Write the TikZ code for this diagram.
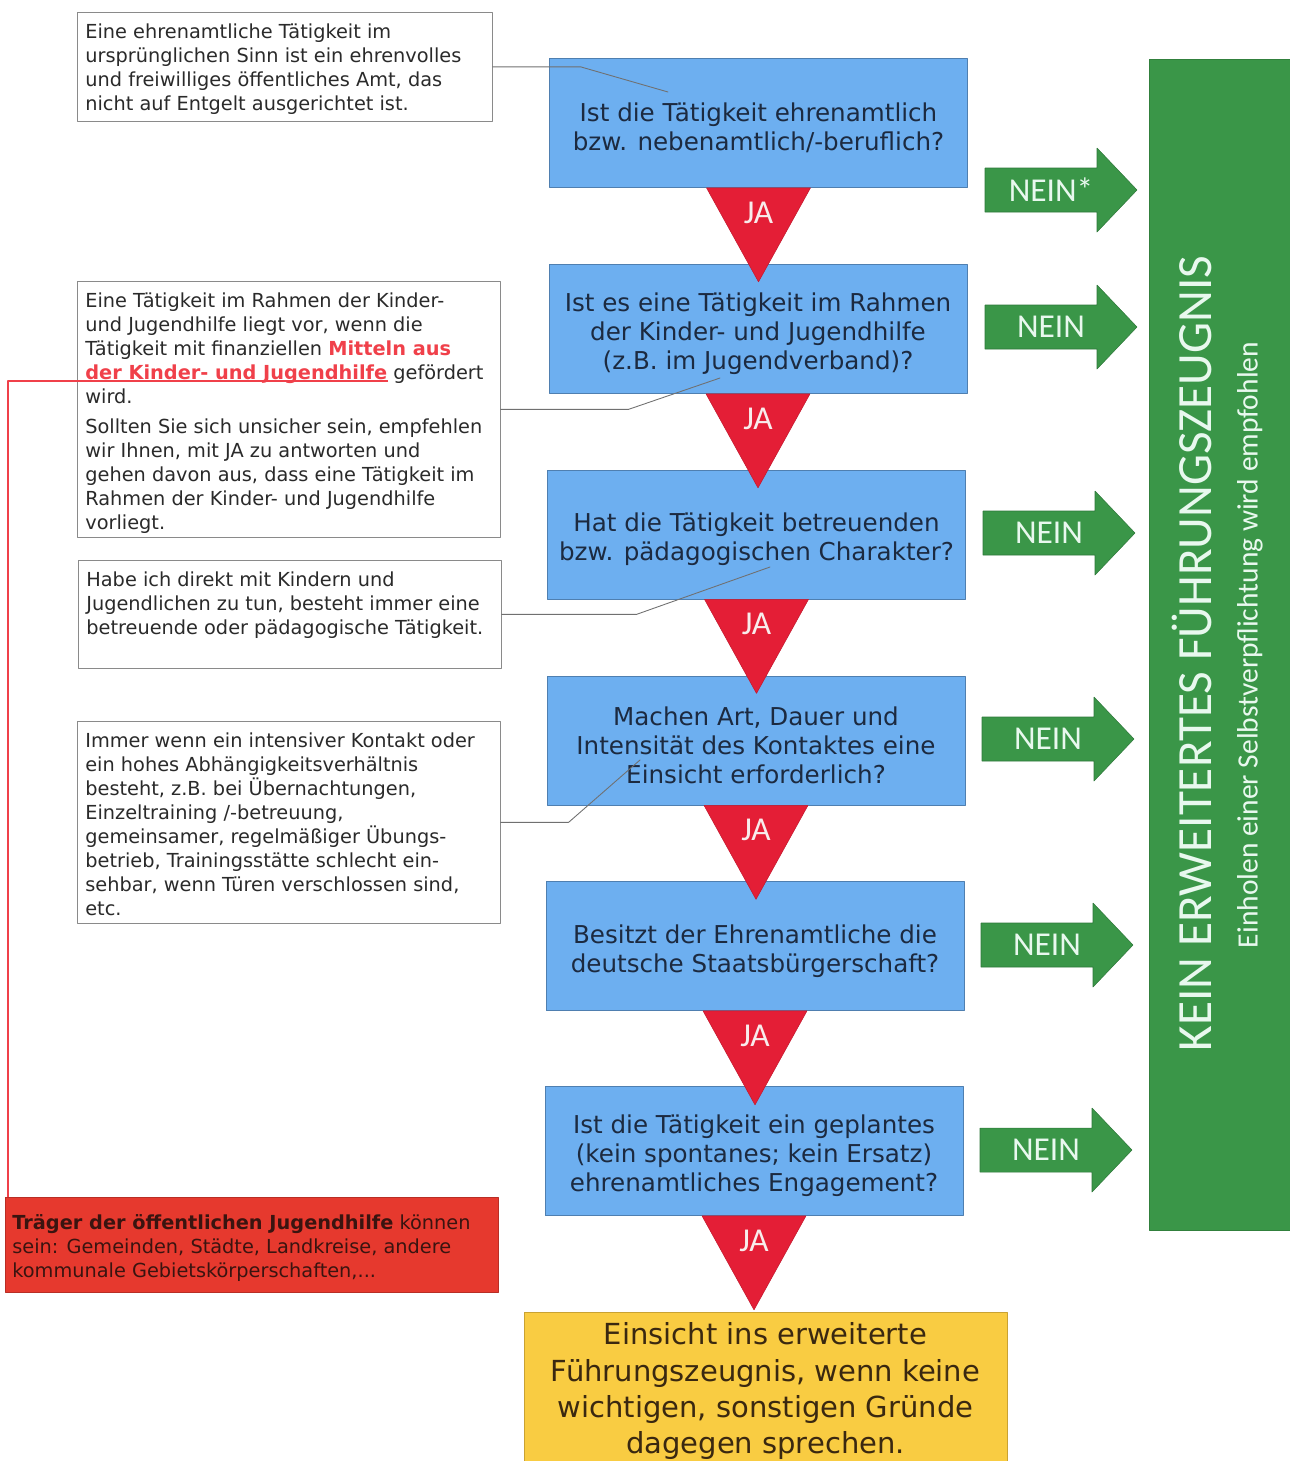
\documentclass[tikz,border=0pt]{standalone}
\usepackage{fontspec}
\setmainfont{DejaVu Sans}
\newfontfamily\calfont{Carlito}
\usetikzlibrary{calc}
\definecolor{qblue}{HTML}{6DAFF0}
\definecolor{qedge}{HTML}{4F7FB0}
\definecolor{qtext}{HTML}{1C2A40}
\definecolor{jared}{HTML}{E41E36}
\definecolor{jawhite}{HTML}{F8ECEC}
\definecolor{neingreen}{HTML}{3A9648}
\definecolor{neinwhite}{HTML}{E8F8EE}
\definecolor{resyellow}{HTML}{F9CC42}
\definecolor{resedge}{HTML}{C9A233}
\definecolor{restext}{HTML}{3A2810}
\definecolor{traegerred}{HTML}{E6392E}
\definecolor{traegertext}{HTML}{3A1410}
\definecolor{notegray}{HTML}{8A8A8A}
\definecolor{notetext}{HTML}{2A2A2A}
\definecolor{linkgray}{HTML}{707070}
\definecolor{linkred}{HTML}{F0404A}
\begin{document}
\begin{tikzpicture}[x=0.02cm, y=-0.02cm, line join=round, line cap=round,
  frage/.style={draw=qedge, fill=qblue, text=qtext, minimum width=8.36cm, minimum height=2.58cm,
    inner sep=0pt, align=center, font=\fontsize{14}{16.5}\selectfont},
  notiz/.style={draw=notegray, fill=white, anchor=north west, inner xsep=0.16cm, inner ysep=0.18cm,
    text=notetext, font=\fontsize{11}{13.66}\selectfont},
  ja/.style={text=jawhite, font=\calfont\fontsize{19}{19}\selectfont, inner sep=0pt},
  nein/.style={text=neinwhite, font=\calfont\fontsize{19}{19}\selectfont, inner sep=0pt},
  link/.style={draw=linkgray, line width=0.5pt}]
\useasboundingbox (0,0) rectangle (1289,1461);
% Fragen
\foreach \i/\cx/\cy/\txt in {
  1/758.5/123/{Ist die Tätigkeit ehrenamtlich\\bzw. nebenamtlich/-beruflich?},
  2/758/329/{Ist es eine Tätigkeit im Rahmen\\der Kinder- und Jugendhilfe\\(z.B. im Jugendverband)?},
  3/756.5/534.5/{Hat die Tätigkeit betreuenden\\bzw. pädagogischen Charakter?},
  4/756/740.5/{Machen Art, Dauer und\\Intensität des Kontaktes eine\\Einsicht erforderlich?},
  5/755/946/{Besitzt der Ehrenamtliche die\\deutsche Staatsbürgerschaft?},
  6/754/1151/{Ist die Tätigkeit ein geplantes\\(kein spontanes; kein Ersatz)\\ehrenamtliches Engagement?}}{
  \node[frage] (q\i) at (\cx,\cy) {\rule{0pt}{16pt}\txt};
}
\node[draw=resedge, fill=resyellow, text=restext, minimum width=9.66cm, minimum height=3.16cm,
  inner sep=0pt, align=center, font=\fontsize{16.5}{20.5}\selectfont] (ergebnis) at (765.5,1391)
  {Einsicht ins erweiterte\\Führungszeugnis, wenn keine\\wichtigen, sonstigen Gründe\\dagegen sprechen.};
% JA-Dreiecke
\foreach \i in {1,...,6}{
  \filldraw[fill=jared, draw=jared!85!black, line width=0.3pt] ($(q\i.south)+(-52,0)$) -- ($(q\i.south)+(52,0)$) -- ($(q\i.south)+(0,94)$) -- cycle;
  \node[ja] (ja\i) at ($(q\i.south)+(0,25)$) {JA};
}
% NEIN-Pfeile
\foreach \i/\ax/\ay/\lab in {1/985/190/NEIN*, 2/985/327/NEIN, 3/983/533/NEIN, 4/982/739/NEIN, 5/981/945/NEIN, 6/980/1150/NEIN}{
  \filldraw[fill=neingreen, draw=neingreen!80!black, line width=0.3pt] (\ax,\ay-22) -- ++(112,0) -- ++(0,-20) -- (\ax+152,\ay)
    -- (\ax+112,\ay+42) -- ++(0,-20) -- (\ax,\ay+22) -- cycle;
  \node[nein] (nein\i) at (\ax+66,\ay) {\lab};
}
% Balken rechts
\node[fill=neingreen, draw=neingreen!85!black, minimum width=2.88cm, minimum height=23.42cm, inner sep=0pt] (balken) at (1221,644.5) {};
\node[rotate=90, text=neinwhite, font=\calfont\fontsize{28}{28}\selectfont, inner sep=0pt] (kein) at (1192,653.5) {KEIN ERWEITERTES FÜHRUNGSZEUGNIS};
\node[rotate=90, text=neinwhite, font=\calfont\fontsize{16.8}{18}\selectfont, inner sep=0pt] (empf) at (1250,645) {Einholen einer Selbstverpflichtung wird empfohlen};
% Hinweise links
\node[notiz] (n1) at (77,12) {\parbox[t][1.82cm][t]{7.98cm}{\raggedright\vspace*{0.04cm}
  Eine ehrenamtliche Tätigkeit im\\ursprünglichen Sinn ist ein ehrenvolles\\und freiwilliges öffentliches Amt, das\\nicht auf Entgelt ausgerichtet ist.}};
\node[notiz] (n2) at (77,281) {\parbox[t][4.76cm][t]{8.14cm}{\raggedright\vspace*{0.04cm}
  Eine Tätigkeit im Rahmen der Kinder-\\und Jugendhilfe liegt vor, wenn die\\Tätigkeit mit finanziellen {\bfseries\color{linkred}Mitteln aus}\\{\bfseries\color{linkred}der Kinder- und Jugendhilfe} gefördert\\wird.\\[3.4pt]
  Sollten Sie sich unsicher sein, empfehlen\\wir Ihnen, mit JA zu antworten und\\gehen davon aus, dass eine Tätigkeit im\\Rahmen der Kinder- und Jugendhilfe\\vorliegt.}};
\node[notiz] (n3) at (78,560) {\parbox[t][1.8cm][t]{8.14cm}{\raggedright\vspace*{0.04cm}
  Habe ich direkt mit Kindern und\\Jugendlichen zu tun, besteht immer eine\\betreuende oder pädagogische Tätigkeit.}};
\node[notiz] (n4) at (77,721) {\parbox[t][3.68cm][t]{8.14cm}{\raggedright\vspace*{0.04cm}
  Immer wenn ein intensiver Kontakt oder\\ein hohes Abhängigkeitsverhältnis\\besteht, z.B. bei Übernachtungen,\\Einzeltraining /-betreuung,\\gemeinsamer, regelmäßiger Übungs-\\betrieb, Trainingsstätte schlecht ein-\\sehbar, wenn Türen verschlossen sind,\\etc.}};
\node[notiz, fill=traegerred, draw=traegerred!80!black, text=traegertext, inner xsep=0.14cm, inner ysep=0.14cm] (traeger) at (5,1197)
  {\parbox[t][1.62cm][t]{9.58cm}{\raggedright\vspace*{0.2cm}
  {\bfseries Träger der öffentlichen Jugendhilfe} können\\sein: Gemeinden, Städte, Landkreise, andere\\kommunale Gebietskörperschaften,...}};
% Verbindungen
\coordinate (c1) at (668,92);
\coordinate (c2) at (720,378);
\coordinate (c3) at (770,567);
\coordinate (c4) at (640,760);
\coordinate (ul) at (388,381);
\draw[link] (n1.east) -- ++(88,0) -- (c1);
\draw[link] (n2.east) -- ++(128,0) -- (c2);
\draw[link] (n3.east) -- ++(135,0) -- (c3);
\draw[link] (n4.east) -- ++(68,0) -- (c4);
\draw[linkred, line width=1.1pt, line cap=butt] (ul) -| ($(traeger.north west)+(3,0)$);
\end{tikzpicture}
\end{document}
